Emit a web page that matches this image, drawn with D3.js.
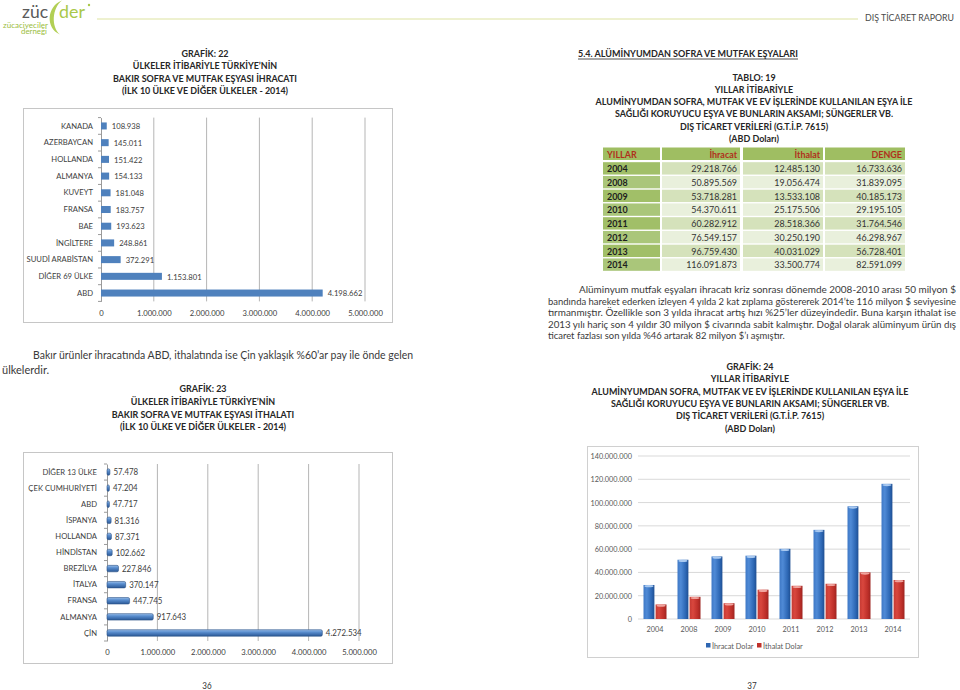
<!DOCTYPE html>
<html><head><meta charset="utf-8">
<script src="https://cdn.jsdelivr.net/npm/d3@7/dist/d3.min.js"></script>
<style>
html,body{margin:0;padding:0;background:#fff;}
svg{display:block;font-family:Lato,"Open Sans",sans-serif;}
</style></head><body>
<svg id="page" width="960" height="690"></svg>
<script>
// ---------------- DATA ----------------
const exportCountries = ["KANADA","AZERBAYCAN","HOLLANDA","ALMANYA","KUVEYT","FRANSA","BAE","İNGİLTERE","SUUDİ ARABİSTAN","DİĞER 69 ÜLKE","ABD"];
const exportValues = [108938,145011,151422,154133,181048,183757,193623,248861,372291,1153801,4198662];
const importCountries = ["DİĞER 13 ÜLKE","ÇEK CUMHURİYETİ","ABD","İSPANYA","HOLLANDA","HİNDİSTAN","BREZİLYA","İTALYA","FRANSA","ALMANYA","ÇİN"];
const importValues = [57478,47204,47717,81316,87371,102662,227846,370147,447745,917643,4272534];
const countryTicks = [0,1000000,2000000,3000000,4000000,5000000];

const years = ["2004","2008","2009","2010","2011","2012","2013","2014"];
const exportUSD = [29218766,50895569,53718281,54370611,60282912,76549157,96759430,116091873];
const importUSD = [12485130,19056474,13533108,25175506,28518366,30250190,40031029,33500774];
const balanceUSD = [16733636,31839095,40185173,29195105,31764546,46298967,56728401,82591099];
const usdTicks = [0,20000000,40000000,60000000,80000000,100000000,120000000,140000000];
const seriesNames = ["İhracat Dolar","İthalat Dolar"];
const tableHeaders = ["YILLAR","İhracat","İthalat","DENGE"];

const title22 = ["GRAFİK: 22","ÜLKELER İTİBARİYLE TÜRKİYE’NİN","BAKIR SOFRA VE MUTFAK EŞYASI İHRACATI","(İLK 10 ÜLKE VE DİĞER ÜLKELER - 2014)"];
const title23 = ["GRAFİK: 23","ÜLKELER İTİBARİYLE TÜRKİYE’NİN","BAKIR SOFRA VE MUTFAK EŞYASI İTHALATI","(İLK 10 ÜLKE VE DİĞER ÜLKELER - 2014)"];
const title19 = ["TABLO: 19","YILLAR İTİBARİYLE","ALUMİNYUMDAN SOFRA, MUTFAK VE EV İŞLERİNDE KULLANILAN EŞYA İLE","SAĞLIĞI KORUYUCU EŞYA VE BUNLARIN AKSAMI; SÜNGERLER VB.","DIŞ TİCARET VERİLERİ (G.T.İ.P. 7615)","(ABD Doları)"];
const title24 = ["GRAFİK: 24","YILLAR İTİBARİYLE","ALUMİNYUMDAN SOFRA, MUTFAK VE EV İŞLERİNDE KULLANILAN EŞYA İLE","SAĞLIĞI KORUYUCU EŞYA VE BUNLARIN AKSAMI; SÜNGERLER VB.","DIŞ TİCARET VERİLERİ (G.T.İ.P. 7615)","(ABD Doları)"];
const leftParagraph = ["Bakır ürünler ihracatında ABD, ithalatında ise Çin yaklaşık %60’ar pay ile önde gelen","ülkelerdir."];
const rightParagraph = [
 "Alüminyum mutfak eşyaları ihracatı kriz sonrası dönemde 2008-2010 arası 50 milyon $",
 "bandında hareket ederken izleyen 4 yılda 2 kat zıplama göstererek 2014’te 116 milyon $ seviyesine",
 "tırmanmıştır. Özellikle son 3 yılda ihracat artış hızı %25’ler düzeyindedir. Buna karşın ithalat ise",
 "2013 yılı hariç son 4 yıldır 30 milyon $ civarında sabit kalmıştır. Doğal olarak alüminyum ürün dış",
 "ticaret fazlası son yılda %46 artarak 82 milyon $’ı aşmıştır."];
const sectionHeading = "5.4. ALÜMİNYUMDAN SOFRA VE MUTFAK EŞYALARI";
const headerTitle = "DIŞ TİCARET RAPORU";
const pageNumbers = ["36","37"];

// ---------------- HELPERS ----------------
const svg = d3.select("#page");
const loc = d3.formatLocale({decimal:",", thousands:".", grouping:[3], currency:["","$"]});
const fmt = loc.format(",d");
const FONT = "Lato, 'Open Sans', sans-serif";
const K = 0.85; // horizontal condensing to emulate the narrow (Calibri-like) face of the original

function text(x,y,s,o={}){
  const t = svg.append("text").attr("x",x).attr("y",y).text(s)
    .attr("font-size",o.size||10).attr("fill",o.fill||"#333")
    .attr("font-weight",o.weight||"normal").attr("text-anchor",o.anchor||"start")
    .attr("font-family",o.family||FONT);
  if(o.len) t.attr("data-len",o.len);
  if(o.k) t.attr("data-k",o.k);
  return t;
}
function titleBlock(lines, cx, y0, step){
  lines.forEach((l,i)=>text(cx, y0+i*step, l, {size:10.5, weight:"bold", fill:"#262626", anchor:"middle"}));
}

// defs (gradients)
const defs = svg.append("defs");
function grad(id, stops, vertical){
  const g = defs.append("linearGradient").attr("id",id).attr("x1",0).attr("y1",0)
    .attr("x2",vertical?0:1).attr("y2",vertical?1:0);
  stops.forEach(s=>g.append("stop").attr("offset",s[0]).attr("stop-color",s[1]));
}
grad("g3d",[[0,"#9cc0ea"],[0.35,"#5b8fd0"],[1,"#2a5896"]],true);
grad("gBlue",[[0,"#3f79c6"],[0.3,"#4f8ad6"],[0.75,"#2d67b4"],[1,"#1f4f92"]],false);
grad("gRed",[[0,"#c53a33"],[0.3,"#d9473e"],[0.75,"#bd2f29"],[1,"#9e2420"]],false);

// ---------------- LOGO & HEADER ----------------
text(22,17.5,"züc",{size:17.5,fill:"#5a5a5a",k:1});
svg.append("path").attr("d","M62,0.5 C47,6 45,28 60,34.5 C51,27 52,8 62,0.5 Z").attr("fill","#b2cf55");
text(59,17.5,"der",{size:17.5,fill:"#a9c84a",k:1.02});
svg.append("circle").attr("cx",89).attr("cy",5).attr("r",1.2).attr("fill","#a9c84a");
text(3,27.8,"zücaciyeciler",{size:6.6,fill:"#9bbd3c",len:45});
text(21,34,"derneği",{size:6.6,fill:"#9bbd3c",len:26});
svg.append("line").attr("x1",97).attr("x2",858).attr("y1",19).attr("y2",19).attr("stroke","#dde3a0").attr("stroke-width",1);
text(865,21,headerTitle,{size:9.5,fill:"#4a4a4a",len:89});

// ---------------- LEFT PAGE ----------------
titleBlock(title22, 205, 57, 12.4);

function hbar(cats, vals, o){
  const g = svg.append("g");
  g.append("rect").attr("x",o.fx).attr("y",o.fy).attr("width",o.fw).attr("height",o.fh)
    .attr("fill","#fff").attr("stroke","#c6c6c6").attr("stroke-width",1);
  const x = d3.scaleLinear().domain([0,5000000]).range([o.x0,o.x1]);
  const y = d3.scaleBand().domain(cats).range([o.y0,o.y1]).paddingInner(o.pad).paddingOuter(o.pad/2);
  g.selectAll("line.grid").data(countryTicks.slice(1)).join("line").attr("class","grid")
    .attr("x1",d=>x(d)).attr("x2",d=>x(d)).attr("y1",o.y0).attr("y2",o.y1)
    .attr("stroke","#b5b5b5").attr("stroke-width",1);
  const ax = g.append("g").attr("transform",`translate(0,${o.y1})`)
    .call(d3.axisBottom(x).tickValues(countryTicks).tickFormat(fmt).tickSize(0).tickPadding(o.tickPad));
  ax.select(".domain").remove();
  ax.selectAll("text").attr("font-size",9).attr("fill","#404040").attr("font-family",FONT);
  const ay = g.append("g").attr("transform",`translate(${o.x0},0)`)
    .call(d3.axisLeft(y).tickSize(0).tickPadding(o.labelPad));
  ay.select(".domain").attr("stroke","#9a9a9a");
  ay.selectAll("text").attr("font-size",9).attr("fill","#404040").attr("font-family",FONT);
  const step = y.step();
  g.selectAll("line.bt").data(d3.range(cats.length+1)).join("line").attr("class","bt")
    .attr("x1",o.x0-3).attr("x2",o.x0).attr("y1",i=>o.y0+i*step).attr("y2",i=>o.y0+i*step)
    .attr("stroke","#9a9a9a");
  g.selectAll("rect.bar").data(vals).join("rect").attr("class","bar")
    .attr("x",x(0)).attr("y",(d,i)=>y(cats[i])).attr("width",d=>x(d)-x(0)).attr("height",y.bandwidth())
    .attr("fill",o.fill).attr("stroke",o.stroke||"none").attr("stroke-width",0.6).attr("rx",o.rx||0);
  g.selectAll("text.val").data(vals).join("text").attr("class","val")
    .attr("x",d=>x(d)+o.valPad).attr("y",(d,i)=>y(cats[i])+y.bandwidth()/2+3.2)
    .text(d=>fmt(d)).attr("font-size",o.valSize||9).attr("fill","#404040").attr("font-family",FONT);
}

hbar(exportCountries, exportValues, {fx:23.5,fy:108.5,fw:369,fh:214, x0:101,x1:365, y0:117.6,y1:301.4,
  pad:0.58, tickPad:8.5, labelPad:8, valPad:5, fill:"#4f81bd"});

text(33,359,leftParagraph[0],{size:10.5,fill:"#3a3a3a",len:380});
text(2,374,leftParagraph[1],{size:10.5,fill:"#3a3a3a",k:1.05});

titleBlock(title23, 203, 392, 12.8);

hbar(importCountries, importValues, {fx:23.5,fy:452.5,fw:369,fh:211, x0:107,x1:359, y0:464,y1:641,
  pad:0.6, tickPad:8, labelPad:10, valPad:3.5, fill:"url(#g3d)", stroke:"#2b5286", rx:1.5, valSize:9.3});

text(207,689,pageNumbers[0],{size:9.5,fill:"#333",anchor:"middle"});

// ---------------- RIGHT PAGE ----------------
text(578,57,sectionHeading,{size:10.5,weight:"bold",fill:"#262626",len:220});
svg.append("line").attr("x1",578).attr("x2",798).attr("y1",59).attr("y2",59).attr("stroke","#262626").attr("stroke-width",0.8);

titleBlock(title19, 754, 80.5, 12.3);

// table
const colEdges = [[603,660],[662,740],[743,823],[825,905]];
const rowY = d3.scaleBand().domain(years).range([161.5,271.5]).paddingInner(0.1).paddingOuter(0.05);
const tbl = svg.append("g");
tbl.selectAll("rect.h").data(tableHeaders).join("rect").attr("class","h")
  .attr("x",(d,i)=>colEdges[i][0]).attr("width",(d,i)=>colEdges[i][1]-colEdges[i][0])
  .attr("y",147.5).attr("height",12.5).attr("fill","#9fbe62");
tbl.selectAll("text.h").data(tableHeaders).join("text").attr("class","h")
  .attr("x",(d,i)=>i===0?colEdges[i][0]+4:colEdges[i][1]-3).attr("y",157.5)
  .attr("text-anchor",(d,i)=>i===0?"start":"end").text(d=>d)
  .attr("font-size",10.5).attr("font-weight","bold").attr("fill","#b0301c").attr("font-family",FONT);
const rows = years.map((yv,i)=>[yv, exportUSD[i], importUSD[i], balanceUSD[i]]);
rows.forEach((r,ri)=>{
  r.forEach((c,ci)=>{
    tbl.append("rect").attr("x",colEdges[ci][0]).attr("width",colEdges[ci][1]-colEdges[ci][0])
      .attr("y",rowY(r[0])).attr("height",rowY.bandwidth())
      .attr("fill", ci===0 ? (ri%2===0?"#a1bf68":"#aac67a") : (ri%2===0?"#d5e2bb":"#e9f0dc"));
    tbl.append("text").attr("x",ci===0?colEdges[ci][0]+4:colEdges[ci][1]-3)
      .attr("y",rowY(r[0])+rowY.bandwidth()/2+3.8)
      .attr("text-anchor",ci===0?"start":"end").text(ci===0?c:fmt(c))
      .attr("font-size",10.5).attr("font-weight",ci===0?"bold":"normal")
      .attr("fill",ci===0?"#1e1e1e":"#333").attr("font-family",FONT);
  });
});

// paragraph
rightParagraph.forEach((l,i)=>{
  const x = i===0?579:548;
  const o = {size:9.8,fill:"#3a3a3a",k:0.96};
  if(i<rightParagraph.length-1) o.len = 956-x;
  text(x, 293+i*11.6, l, o);
});

titleBlock(title24, 750, 370, 12.3);

// chart 24
const c24 = svg.append("g");
c24.append("rect").attr("x",587.5).attr("y",446.5).attr("width",331).attr("height",211)
  .attr("fill","#fff").attr("stroke","#d0d0d0");
const xb = d3.scaleBand().domain(years).range([638,910]);
const xs = d3.scaleBand().domain(seriesNames).range([5.5,28.5]).paddingInner(0.1);
const yl = d3.scaleLinear().domain([0,140000000]).range([619,456]);
c24.selectAll("line.g").data(usdTicks).join("line").attr("class","g")
  .attr("x1",638).attr("x2",910).attr("y1",d=>yl(d)).attr("y2",d=>yl(d))
  .attr("stroke","#d9d9d9");
const ayl = c24.append("g").attr("transform","translate(638,0)")
  .call(d3.axisLeft(yl).tickValues(usdTicks).tickFormat(fmt).tickSize(0).tickPadding(6));
ayl.select(".domain").remove();
ayl.selectAll("text").attr("font-size",8.6).attr("fill","#595959").attr("font-family",FONT);
const axb = c24.append("g").attr("transform","translate(0,619)")
  .call(d3.axisBottom(xb).tickSize(0).tickPadding(7.5));
axb.select(".domain").remove();
axb.selectAll("text").attr("font-size",8.6).attr("fill","#595959").attr("font-family",FONT);
const series = [exportUSD, importUSD];
const fills = ["url(#gBlue)","url(#gRed)"];
const caps = ["#a9c9f0","#f0a49e"];
series.forEach((vals,si)=>{
  c24.selectAll("rect.s"+si).data(vals).join("rect").attr("class","s"+si)
    .attr("x",(d,i)=>xb(years[i])+xs(seriesNames[si])).attr("width",xs.bandwidth())
    .attr("y",d=>yl(d)).attr("height",d=>yl(0)-yl(d)).attr("fill",fills[si]);
  c24.selectAll("ellipse.s"+si).data(vals).join("ellipse").attr("class","s"+si)
    .attr("cx",(d,i)=>xb(years[i])+xs(seriesNames[si])+xs.bandwidth()/2).attr("cy",d=>yl(d)+1.2)
    .attr("rx",xs.bandwidth()/2-1).attr("ry",1.1).attr("fill",caps[si]);
});
// legend
const legX = [706,757];
seriesNames.forEach((n,i)=>{
  c24.append("rect").attr("x",legX[i]).attr("y",643).attr("width",4.5).attr("height",4.5).attr("fill",i===0?"#2e66b2":"#c0312b");
  c24.append("text").attr("x",legX[i]+6).attr("y",649).text(n).attr("font-size",8.6).attr("fill","#595959").attr("font-family",FONT);
});

text(752,689,pageNumbers[1],{size:9.5,fill:"#333",anchor:"middle"});

// Fit every text: shrink the font a little, then set the exact length (condensed face / justified lines)
svg.selectAll("text").each(function(){
  const w = this.getComputedTextLength();
  let target;
  if(this.hasAttribute("data-len")) target = +this.getAttribute("data-len");
  else target = w * (this.hasAttribute("data-k") ? +this.getAttribute("data-k") : K);
  const fs = +this.getAttribute("font-size");
  const f = Math.min(1, Math.max(0.92, target / w));
  if(f < 1) this.setAttribute("font-size", (fs*f).toFixed(2));
  if(Math.abs(target - w) > 0.5){
    this.setAttribute("textLength", target.toFixed(2));
    this.setAttribute("lengthAdjust","spacingAndGlyphs");
  }
});
</script>
</body></html>
